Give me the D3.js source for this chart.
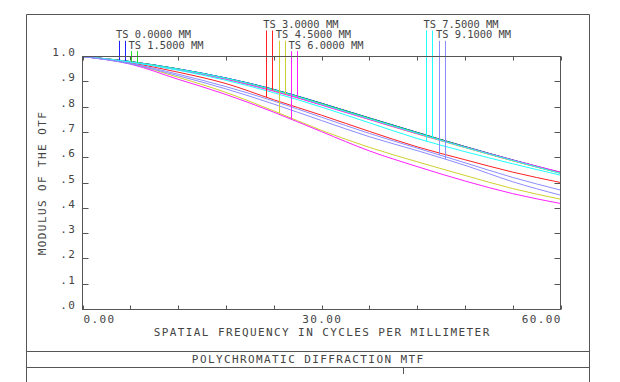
<!DOCTYPE html>
<html>
<head>
<meta charset="utf-8">
<script src="https://cdn.jsdelivr.net/npm/d3@7/dist/d3.min.js"></script>
<style>
  html, body { margin: 0; padding: 0; background: #fff; }
  svg { display: block; }
  text { font-family: "DejaVu Sans Mono", "Liberation Mono", monospace; fill: #444; }
</style>
</head>
<body>
<svg id="chart" width="620" height="382"></svg>
<script>
// ---------------- DATA ----------------
const freqs = [0, 6, 12, 18, 24, 30, 36, 42, 48, 54, 60];   // cycles/mm

const fieldNames  = ["0.0000", "1.5000", "3.0000", "4.5000", "6.0000", "7.5000", "9.1000"];
const fieldColors = ["#2020ff", "#20e020", "#ff2020", "#d0d030", "#ff20ff", "#20ffff", "#8c8cff"];

// tangential MTF per field
const mtfT = [
  [1.000, 0.980, 0.951, 0.915, 0.870, 0.815, 0.757, 0.700, 0.644, 0.591, 0.541],
  [1.000, 0.979, 0.950, 0.913, 0.868, 0.813, 0.755, 0.698, 0.643, 0.590, 0.541],
  [1.000, 0.975, 0.938, 0.893, 0.829, 0.768, 0.704, 0.643, 0.592, 0.543, 0.502],
  [1.000, 0.972, 0.918, 0.858, 0.785, 0.708, 0.641, 0.584, 0.530, 0.478, 0.436],
  [1.000, 0.970, 0.910, 0.850, 0.780, 0.703, 0.627, 0.565, 0.508, 0.458, 0.419],
  [1.000, 0.978, 0.946, 0.906, 0.857, 0.800, 0.738, 0.676, 0.624, 0.576, 0.531],
  [1.000, 0.973, 0.930, 0.881, 0.824, 0.760, 0.696, 0.638, 0.580, 0.522, 0.472]
];
// sagittal MTF per field
const mtfS = [
  [1.000, 0.980, 0.951, 0.915, 0.870, 0.815, 0.757, 0.700, 0.644, 0.591, 0.541],
  [1.000, 0.980, 0.950, 0.914, 0.869, 0.814, 0.756, 0.699, 0.643, 0.590, 0.540],
  [1.000, 0.979, 0.949, 0.912, 0.866, 0.811, 0.753, 0.696, 0.641, 0.588, 0.539],
  [1.000, 0.978, 0.948, 0.911, 0.864, 0.809, 0.751, 0.694, 0.640, 0.588, 0.539],
  [1.000, 0.978, 0.947, 0.910, 0.863, 0.808, 0.751, 0.695, 0.642, 0.591, 0.543],
  [1.000, 0.979, 0.950, 0.914, 0.868, 0.812, 0.754, 0.697, 0.641, 0.589, 0.538],
  [1.000, 0.971, 0.924, 0.872, 0.812, 0.747, 0.683, 0.628, 0.570, 0.505, 0.452]
];

// legend groups: field indices in each group, and group anchor (in cycles/mm)
const legendGroups = [[0, 1], [2, 3, 4], [5, 6]];
const legendGroupFreq = [4.2, 22.7, 42.8];
const legendGroupRow0 = [1, 0, 0];

const xTickValues = [0, 6, 12, 18, 24, 30, 36, 42, 48, 54, 60];
const xTickLabels = [0, 30, 60];
const yTickValues = [0, 0.1, 0.2, 0.3, 0.4, 0.5, 0.6, 0.7, 0.8, 0.9, 1.0];

const xTitle = "SPATIAL FREQUENCY IN CYCLES PER MILLIMETER";
const yTitle = "MODULUS OF THE OTF";
const chartTitle = "POLYCHROMATIC DIFFRACTION MTF";

// ---------------- LAYOUT ----------------
const svg = d3.select("#chart");
const L = 82.5, R = 560.5, T = 56.5, B = 309.5;
const x = d3.scaleLinear().domain([0, 60]).range([L, R]);
const y = d3.scaleLinear().domain([0, 1]).range([B, T]);
const frameColor = "#555";

// outer frame
const outer = svg.append("g").attr("fill", "none").attr("stroke", frameColor).attr("stroke-width", 1);
outer.append("path").attr("d", `M26.5,382 V14.5 H589.5 V382`);
outer.append("line").attr("x1", 26.5).attr("x2", 589.5).attr("y1", 351.5).attr("y2", 351.5);
outer.append("line").attr("x1", 26.5).attr("x2", 589.5).attr("y1", 367.5).attr("y2", 367.5);
outer.append("line").attr("x1", 403.5).attr("x2", 403.5).attr("y1", 367.5).attr("y2", 374);

// curves
const line = d3.line().x((d, i) => x(freqs[i])).y(d => y(d)).curve(d3.curveMonotoneX);
const curveG = svg.append("g").attr("fill", "none").attr("stroke-width", 1);
const curvePaths = [];
fieldNames.forEach((f, i) => {
  const pT = curveG.append("path").attr("d", line(mtfT[i])).attr("stroke", fieldColors[i]);
  const pS = curveG.append("path").attr("d", line(mtfS[i])).attr("stroke", fieldColors[i]);
  curvePaths.push([pT.node(), pS.node()]);
});

function yOnPath(node, px) {
  const total = node.getTotalLength();
  let lo = 0, hi = total;
  for (let k = 0; k < 40; k++) {
    const mid = (lo + hi) / 2;
    if (node.getPointAtLength(mid).x < px) lo = mid; else hi = mid;
  }
  return node.getPointAtLength((lo + hi) / 2).y;
}

// legend
const charW = 6.26;
const rowBase = [28, 38.3, 48.6];
const legendG = svg.append("g");
legendGroups.forEach((grp, gi) => {
  grp.forEach((fi, k) => {
    const lx = x(legendGroupFreq[gi]) + k * 2 * charW;
    const row = legendGroupRow0[gi] + k;
    const by = rowBase[row];
    legendG.append("text")
      .attr("x", lx).attr("y", by)
      .style("font-size", "10.4px")
      .text(`TS ${fieldNames[fi]} MM`);
    [2.8, 9.0].forEach((off, j) => {
      const px = Math.round(lx + off) + 0.5;
      const yEnd = yOnPath(curvePaths[fi][j], px);
      legendG.append("line")
        .attr("x1", px).attr("x2", px)
        .attr("y1", by + 2.5).attr("y2", yEnd)
        .attr("stroke", fieldColors[fi]).attr("stroke-width", 1);
    });
  });
});

// axes ticks (inward)
const tickG = svg.append("g").attr("stroke", frameColor).attr("stroke-width", 1);
xTickValues.forEach(v => {
  const px = Math.round(x(v)) + 0.5;
  tickG.append("line").attr("x1", px).attr("x2", px).attr("y1", B).attr("y2", B - 4);
  tickG.append("line").attr("x1", px).attr("x2", px).attr("y1", T).attr("y2", T + 4);
});
yTickValues.forEach(v => {
  const py = Math.round(y(v) - 0.5) + 0.5;
  tickG.append("line").attr("x1", L).attr("x2", L + 6).attr("y1", py).attr("y2", py);
  tickG.append("line").attr("x1", R).attr("x2", R - 6).attr("y1", py).attr("y2", py);
});

// plot frame
svg.append("rect").attr("x", L).attr("y", T).attr("width", R - L).attr("height", B - T)
  .attr("fill", "none").attr("stroke", frameColor).attr("stroke-width", 1);

// tick labels
const ls = 1.4;
const labG = svg.append("g").style("font-size", "11px").style("letter-spacing", ls + "px");
const fmtX = d3.format(".2f");
xTickLabels.forEach((v, i) => {
  const anchor = i === 0 ? "start" : (i === xTickLabels.length - 1 ? "end" : "middle");
  const dx = anchor === "start" ? 1 : (anchor === "end" ? ls : ls / 2);
  labG.append("text").attr("x", x(v) + dx).attr("y", 323)
    .attr("text-anchor", anchor).text(fmtX(v));
});
const fmtY = v => { const s = d3.format(".1f")(v); return s.startsWith("0") ? s.slice(1) : s; };
yTickValues.forEach(v => {
  labG.append("text").attr("x", 75 + ls).attr("y", y(v) - 0.5)
    .attr("text-anchor", "end").text(fmtY(v));
});

// titles
labG.append("text").attr("x", (L + R) / 2 + ls / 2).attr("y", 336)
  .attr("text-anchor", "middle").text(xTitle);
labG.append("text").attr("transform", `translate(46,${(T + B) / 2}) rotate(-90)`)
  .attr("text-anchor", "middle").text(yTitle);
labG.append("text").attr("x", 307.5 + ls / 2).attr("y", 363)
  .attr("text-anchor", "middle").text(chartTitle);
</script>
</body>
</html>
